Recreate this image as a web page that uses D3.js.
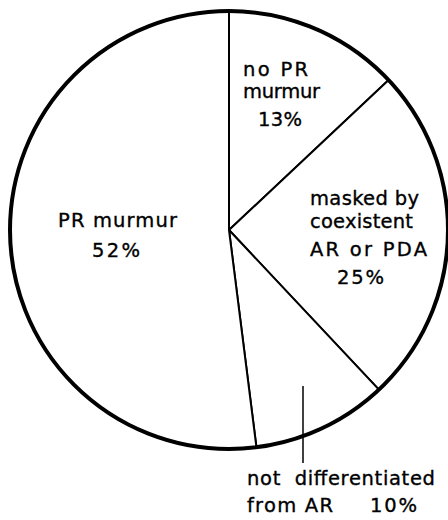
<!DOCTYPE html>
<html>
<head>
<meta charset="utf-8">
<script src="https://cdn.jsdelivr.net/npm/d3@7"></script>
<style>
  html, body { margin: 0; padding: 0; background: #fff; }
  svg { display: block; }
  text { font-family: "DejaVu Sans", sans-serif; font-size: 19.5px; fill: #000; stroke: #000; stroke-width: 0.35px; }
</style>
</head>
<body>
<svg id="chart" width="448" height="520"></svg>
<script>
// ---- data ----
const categories = ["no PR murmur", "masked by coexistent AR or PDA", "not differentiated from AR", "PR murmur"];
const values = [13, 25, 10, 52];
const percentLabels = ["13%", "25%", "10%", "52%"];
const labelLines = [
  ["no PR", "murmur", "13%"],
  ["masked by", "coexistent", "AR or PDA", "25%"],
  ["not  differentiated", "from AR", "10%"],
  ["PR murmur", "52%"]
];

// ---- layout ----
const W = 448, H = 520;
const cx = 229, cy = 230, R = 219;

// label placement: [x, baseline y, width] per line
const labelLayout = [
  [[243, 76, 65], [243, 98, 77], [258, 126, 44]],
  [[310, 205, 109], [310, 228, 103], [310, 256, 117], [337, 284, 47]],
  [[247, 485, 188], [247, 512, 86], [370, 512, 47]],
  [[58, 227, 119], [92, 257, 48]]
];

const svg = d3.select("#chart");
const g = svg.append("g").attr("transform", `translate(${cx},${cy})`);

const pie = d3.pie().sort(null).value(d => d).startAngle(0).endAngle(2 * Math.PI);
const arcs = pie(values);
const arc = d3.arc().innerRadius(0).outerRadius(R);

g.selectAll("path.slice")
  .data(arcs)
  .join("path")
  .attr("class", "slice")
  .attr("d", arc)
  .attr("fill", "#fff")
  .attr("stroke", "#000")
  .attr("stroke-width", 2)
  .attr("stroke-linejoin", "round");

// outer rim (thicker)
g.append("circle")
  .attr("r", R)
  .attr("fill", "none")
  .attr("stroke", "#000")
  .attr("stroke-width", 4);

// leader line for the small slice label
svg.append("line")
  .attr("x1", 303).attr("y1", 386)
  .attr("x2", 303).attr("y2", 463)
  .attr("stroke", "#000")
  .attr("stroke-width", 1.5);

// labels
labelLines.forEach((lines, i) => {
  lines.forEach((txt, j) => {
    const [x, y, w] = labelLayout[i][j];
    svg.append("text")
      .attr("x", x)
      .attr("y", y)
      .attr("textLength", w)
      .attr("lengthAdjust", "spacing")
      .attr("xml:space", "preserve")
      .style("white-space", "pre")
      .text(txt);
  });
});
</script>
</body>
</html>
